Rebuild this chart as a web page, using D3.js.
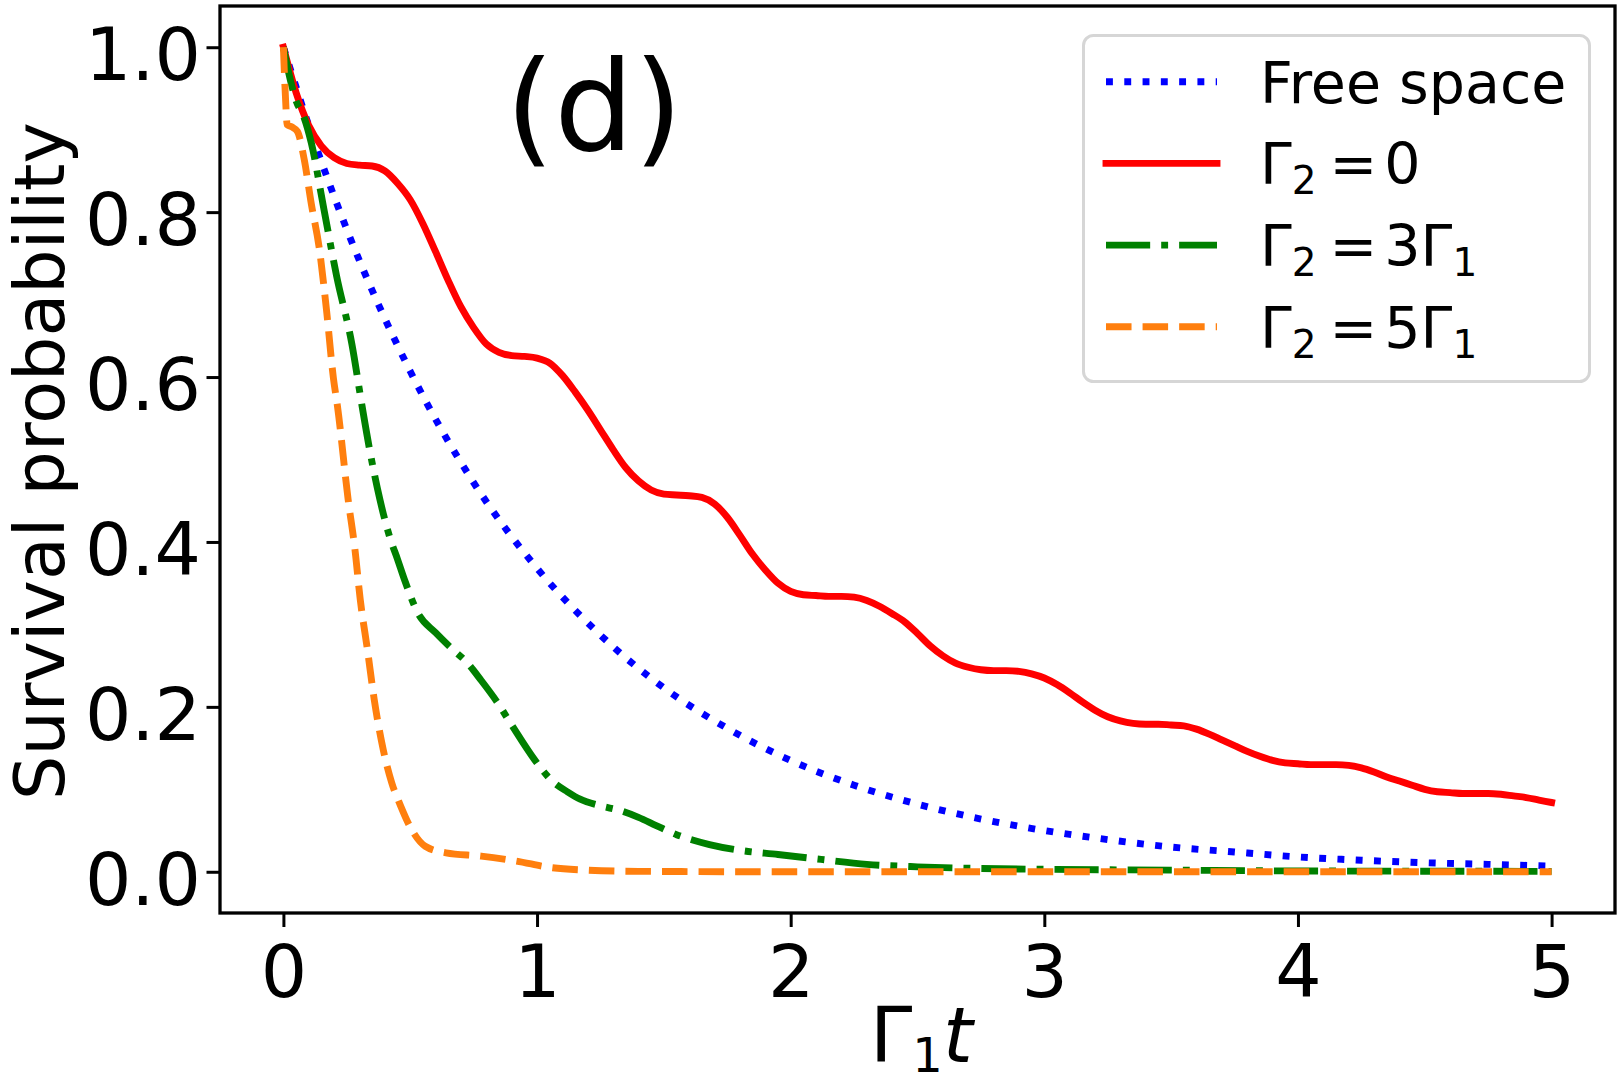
<!DOCTYPE html>
<html>
<head>
<meta charset="utf-8">
<script src="https://cdn.jsdelivr.net/npm/d3@7"></script>
<style>
  body { margin: 0; background: #fff; }
  text { font-family: 'DejaVu Sans', sans-serif; fill: #000; }
</style>
</head>
<body>
<svg id="chart" width="1623" height="1083"></svg>
<script>
// tick values
const xTicks = [0, 1, 2, 3, 4, 5];
const yTicks = [0.0, 0.2, 0.4, 0.6, 0.8, 1.0];

// [Gamma1 t, survival probability]
const freeSpace = [[0,1.0],[0.1,0.905],[0.25,0.779],[0.5,0.607],[0.75,0.472],[1,0.368],[1.25,0.287],
  [1.5,0.223],[1.75,0.174],[2,0.135],[2.25,0.105],[2.5,0.082],[2.75,0.064],[3,0.050],[3.25,0.039],
  [3.5,0.030],[3.75,0.024],[4,0.018],[4.25,0.014],[4.5,0.011],[4.75,0.009],[5,0.007]];

const gammaZero = [[0,1.0],[0.05,0.945],[0.1,0.905],[0.15,0.880],[0.2,0.866],[0.25,0.859],[0.3,0.857],
  [0.35,0.856],[0.4,0.850],[0.45,0.835],[0.5,0.815],[0.55,0.786],[0.6,0.752],[0.65,0.717],[0.7,0.685],
  [0.75,0.660],[0.8,0.640],[0.85,0.630],[0.9,0.626],[0.95,0.625],[1.0,0.623],[1.05,0.617],[1.1,0.602],
  [1.15,0.582],[1.2,0.560],[1.25,0.536],[1.3,0.512],[1.35,0.490],[1.4,0.474],[1.45,0.463],[1.5,0.458],
  [1.55,0.457],[1.6,0.456],[1.65,0.454],[1.7,0.446],[1.75,0.430],[1.8,0.408],[1.85,0.385],[1.9,0.366],
  [1.95,0.350],[2.0,0.340],[2.05,0.336],[2.1,0.335],[2.15,0.334],[2.2,0.334],[2.25,0.333],[2.3,0.329],
  [2.35,0.322],[2.4,0.313],[2.45,0.303],[2.5,0.289],[2.55,0.274],[2.6,0.262],[2.65,0.253],[2.7,0.248],
  [2.75,0.245],[2.8,0.244],[2.85,0.244],[2.9,0.243],[2.95,0.240],[3.0,0.235],[3.05,0.227],[3.1,0.217],
  [3.15,0.206],[3.2,0.196],[3.25,0.188],[3.3,0.183],[3.35,0.180],[3.4,0.179],[3.45,0.179],[3.5,0.178],
  [3.55,0.177],[3.6,0.173],[3.65,0.167],[3.7,0.160],[3.75,0.153],[3.8,0.146],[3.85,0.140],[3.9,0.135],
  [3.95,0.132],[4.0,0.131],[4.05,0.130],[4.1,0.130],[4.15,0.130],[4.2,0.129],[4.25,0.126],[4.3,0.121],
  [4.35,0.115],[4.4,0.110],[4.45,0.105],[4.5,0.100],[4.55,0.097],[4.6,0.096],[4.65,0.095],[4.7,0.095],
  [4.75,0.095],[4.8,0.094],[4.85,0.092],[4.9,0.090],[4.95,0.087],[5.0,0.084]];

const gammaThree = [[0,1.0],[0.03,0.957],[0.05,0.935],[0.08,0.916],[0.11,0.884],[0.16,0.803],[0.21,0.722],
  [0.27,0.640],[0.31,0.565],[0.34,0.512],[0.38,0.452],[0.42,0.405],[0.45,0.379],[0.48,0.352],[0.53,0.314],
  [0.60,0.290],[0.67,0.269],[0.72,0.255],[0.78,0.232],[0.84,0.207],[0.90,0.178],[0.99,0.136],[1.06,0.110],
  [1.12,0.097],[1.17,0.088],[1.25,0.080],[1.33,0.074],[1.40,0.066],[1.47,0.056],[1.55,0.045],[1.62,0.038],
  [1.68,0.033],[1.80,0.026],[1.95,0.021],[2.12,0.015],[2.30,0.009],[2.5,0.006],[2.75,0.004],[3.0,0.003],
  [3.5,0.002],[4.0,0.001],[4.5,0.0007],[5.0,0.0005]];

const gammaFive = [[0,1.0],[0.008,0.940],[0.015,0.906],[0.035,0.903],[0.055,0.898],[0.082,0.864],
  [0.11,0.810],[0.141,0.757],[0.171,0.678],[0.197,0.599],[0.213,0.565],[0.255,0.452],[0.282,0.391],
  [0.303,0.330],[0.331,0.270],[0.358,0.209],[0.393,0.149],[0.427,0.108],[0.462,0.080],[0.504,0.052],
  [0.559,0.031],[0.641,0.023],[0.78,0.019],[0.918,0.013],[1.056,0.005],[1.195,0.002],[1.4,0.0005],
  [2.0,0.0],[3.0,0.0],[4.0,0.0],[5.0,0.0]];

const svg = d3.select('#chart');
const plot = {left: 220, right: 1615, top: 6, bottom: 913};
const lw = 6.9;

const x = d3.scaleLinear().domain([-0.25, 5.25]).range([plot.left, plot.right]);
const y = d3.scaleLinear().domain([-0.05, 1.05]).range([plot.bottom, plot.top]);

// label parts: dx = extra gap before the part, sub = subscript
const series = [
  {data: freeSpace, color: '#0000ff', dash: [1.0, 1.65], cap: 'butt',
   label: [{t: 'Free space'}]},
  {data: gammaZero, color: '#ff0000', dash: null, cap: 'square',
   label: [{t: 'Γ'}, {t: '2', sub: true}, {t: '=', dx: 13}, {t: '0', dx: 7}]},
  {data: gammaThree, color: '#008000', dash: [6.4, 1.6, 1.0, 1.6], cap: 'butt',
   label: [{t: 'Γ'}, {t: '2', sub: true}, {t: '=', dx: 13}, {t: '3Γ', dx: 7}, {t: '1', sub: true}]},
  {data: gammaFive, color: '#ff7f0e', dash: [3.7, 1.6], cap: 'butt',
   label: [{t: 'Γ'}, {t: '2', sub: true}, {t: '=', dx: 13}, {t: '5Γ', dx: 7}, {t: '1', sub: true}]}
];

// axes
let xAxis = svg.append('g')
    .attr('transform', `translate(0,${plot.bottom})`)
    .call(d3.axisBottom(x).tickValues(xTicks).tickSize(14).tickFormat(d3.format('d')));
xAxis.select('.domain').remove();
xAxis.selectAll('line').attr('stroke', '#000').attr('stroke-width', 3);
xAxis.selectAll('text')
    .attr('y', 84).attr('dy', null)
    .style('font-size', '73px').attr('fill', '#000');

let yAxis = svg.append('g')
    .attr('transform', `translate(${plot.left},0)`)
    .call(d3.axisLeft(y).tickValues(yTicks).tickSize(13.5).tickFormat(d3.format('.1f')));
yAxis.select('.domain').remove();
yAxis.selectAll('line').attr('stroke', '#000').attr('stroke-width', 3);
yAxis.selectAll('text')
    .attr('x', -19).attr('y', 32.5).attr('dy', null)
    .style('font-size', '73px').attr('fill', '#000');

// lines
var lineGen = d3.line()
    .x(function(d) { return x(d[0]); })
    .y(function(d) { return y(d[1]); })
    .curve(d3.curveMonotoneX);

series.forEach(function(s) {
  svg.append('path')
      .attr('d', lineGen(s.data))
      .style('fill', 'none')
      .style('stroke', s.color)
      .style('stroke-width', lw + 'px')
      .style('stroke-linecap', s.cap)
      .style('stroke-linejoin', 'round')
      .attr('stroke-dasharray', s.dash ? s.dash.map(v => v * lw).join(' ') : null);
});

// frame
svg.append('rect')
    .attr('x', plot.left).attr('y', plot.top)
    .attr('width', plot.right - plot.left).attr('height', plot.bottom - plot.top)
    .style('fill', 'none').style('stroke', '#000').style('stroke-width', '3.3px');

// panel tag
svg.append('text')
    .attr('x', 594).attr('y', 150)
    .attr('text-anchor', 'middle')
    .style('font-size', '125px')
    .text('(d)');

// axis labels
let xl = svg.append('text').attr('x', 870).attr('y', 1062).style('font-size', '76px');
xl.append('tspan').text('Γ');
xl.append('tspan').attr('dy', 10).style('font-size', '48px').text('1');
xl.append('tspan').attr('dy', -10).style('font-style', 'italic').text('t');

svg.append('text')
    .attr('transform', 'translate(64,461) rotate(-90)')
    .attr('text-anchor', 'middle')
    .style('font-size', '70px')
    .text('Survival probability');

// legend
let legend = svg.append('g');
legend.append('rect')
    .attr('x', 1083.5).attr('y', 35.5).attr('width', 506).attr('height', 346)
    .attr('rx', 10).attr('ry', 10)
    .style('fill', '#fff').style('fill-opacity', 0.8)
    .style('stroke', '#d6d6d6').style('stroke-width', '3px');

series.forEach(function(s, i) {
  let cy = 81.7 + i * 81.7;
  legend.append('line')
      .attr('x1', 1106).attr('x2', 1217).attr('y1', cy).attr('y2', cy)
      .style('stroke', s.color)
      .style('stroke-width', lw + 'px')
      .style('stroke-linecap', s.cap)
      .attr('stroke-dasharray', s.dash ? s.dash.map(v => v * lw).join(' ') : null);
  let txt = legend.append('text')
      .attr('x', 1260).attr('y', cy + 21)
      .style('font-size', '57px');
  let shifted = false;
  s.label.forEach(function(p) {
    let ts = txt.append('tspan').text(p.t);
    let dy = 0;
    if (p.sub) {
      ts.style('font-size', '39px');
      if (!shifted) { dy = 10; shifted = true; }
    } else if (shifted) {
      dy = -10;
      shifted = false;
    }
    if (dy) ts.attr('dy', dy);
    if (p.dx) ts.attr('dx', p.dx);
  });
});
</script>
</body>
</html>
